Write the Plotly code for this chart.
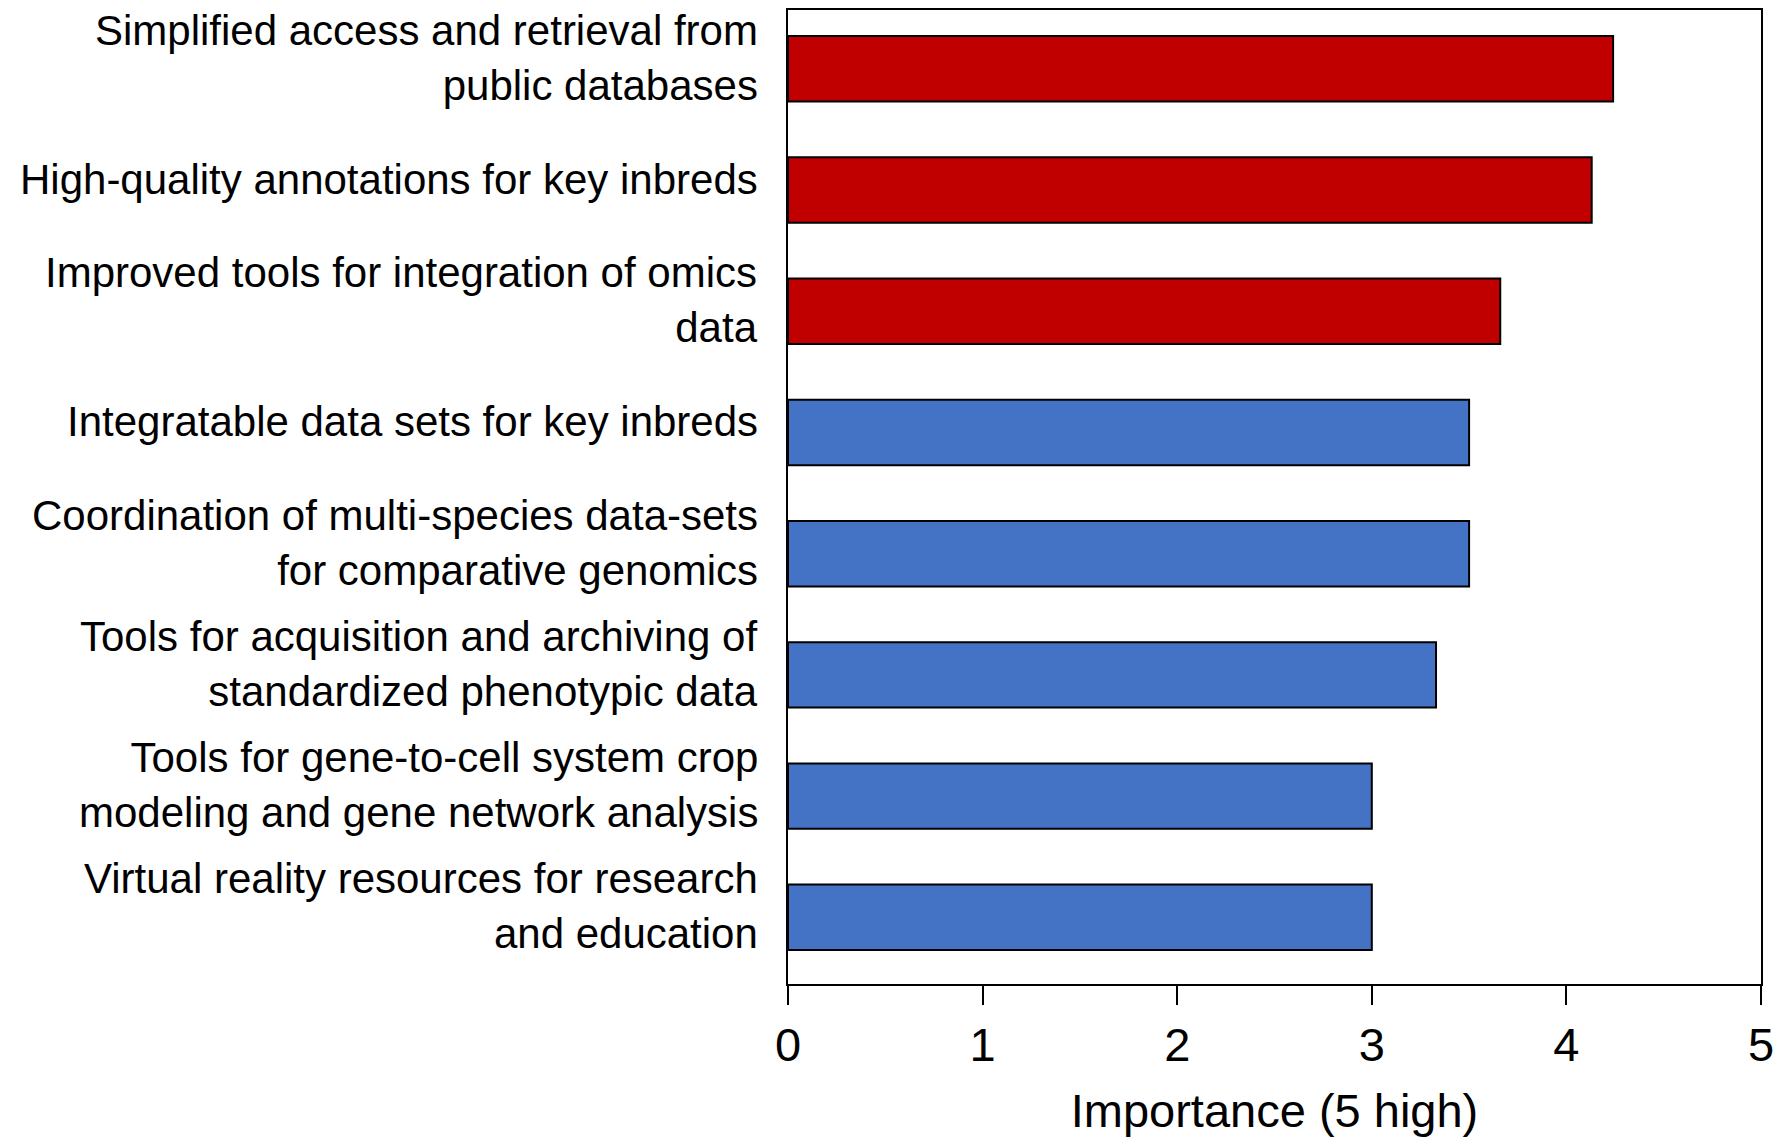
import plotly.graph_objects as go

categories = [
    "Simplified access and retrieval from<br>public databases",
    "High-quality annotations for key inbreds",
    "Improved tools for integration of omics<br>data",
    "Integratable data sets for key inbreds",
    "Coordination of multi-species data-sets<br>for comparative genomics",
    "Tools for acquisition and archiving of<br>standardized phenotypic data",
    "Tools for gene-to-cell system crop<br>modeling and gene network analysis",
    "Virtual reality resources for research<br>and education",
]
values = [4.24, 4.13, 3.66, 3.50, 3.50, 3.33, 3.0, 3.0]
groups = ["top", "top", "top", "other", "other", "other", "other", "other"]
group_colors = {"top": "#C00000", "other": "#4472C4"}
x_ticks = [0, 1, 2, 3, 4, 5]

FONT = "Liberation Sans, Arial, sans-serif"

fig = go.Figure(
    go.Bar(
        x=values,
        y=categories,
        orientation="h",
        width=0.54,
        marker=dict(color=[group_colors[g] for g in groups],
                    line=dict(color="black", width=2)),
        hoverinfo="x+y",
    )
)

for cat in categories:
    fig.add_annotation(
        text=cat,
        xref="paper",
        x=0,
        yref="y",
        y=cat,
        xanchor="right",
        yanchor="middle",
        align="right",
        xshift=-28,
        yshift=11,
        showarrow=False,
        font=dict(size=42, family=FONT, color="black"),
    )

fig.update_layout(
    width=1773,
    height=1130,
    margin=dict(l=780, r=20, t=0, b=154),
    paper_bgcolor="white",
    plot_bgcolor="white",
    showlegend=False,
    font=dict(family=FONT, color="black"),
)

fig.update_xaxes(
    range=[0, 5],
    tickvals=x_ticks,
    ticktext=[str(t) for t in x_ticks],
    ticks="outside",
    ticklen=19,
    tickwidth=2,
    tickcolor="black",
    tickfont=dict(size=47, family=FONT, color="black"),
    showline=True,
    linecolor="black",
    linewidth=2,
    mirror=True,
    showgrid=False,
    zeroline=False,
    title=dict(text="Importance (5 high)", font=dict(size=47, family=FONT, color="black"), standoff=24),
)

fig.update_yaxes(
    categoryorder="array",
    categoryarray=categories,
    range=[7.55, -0.485],
    ticks="",
    showticklabels=False,
    showline=True,
    linecolor="black",
    linewidth=2,
    mirror=True,
    showgrid=False,
    zeroline=False,
)

fig.write_html("out.html")
